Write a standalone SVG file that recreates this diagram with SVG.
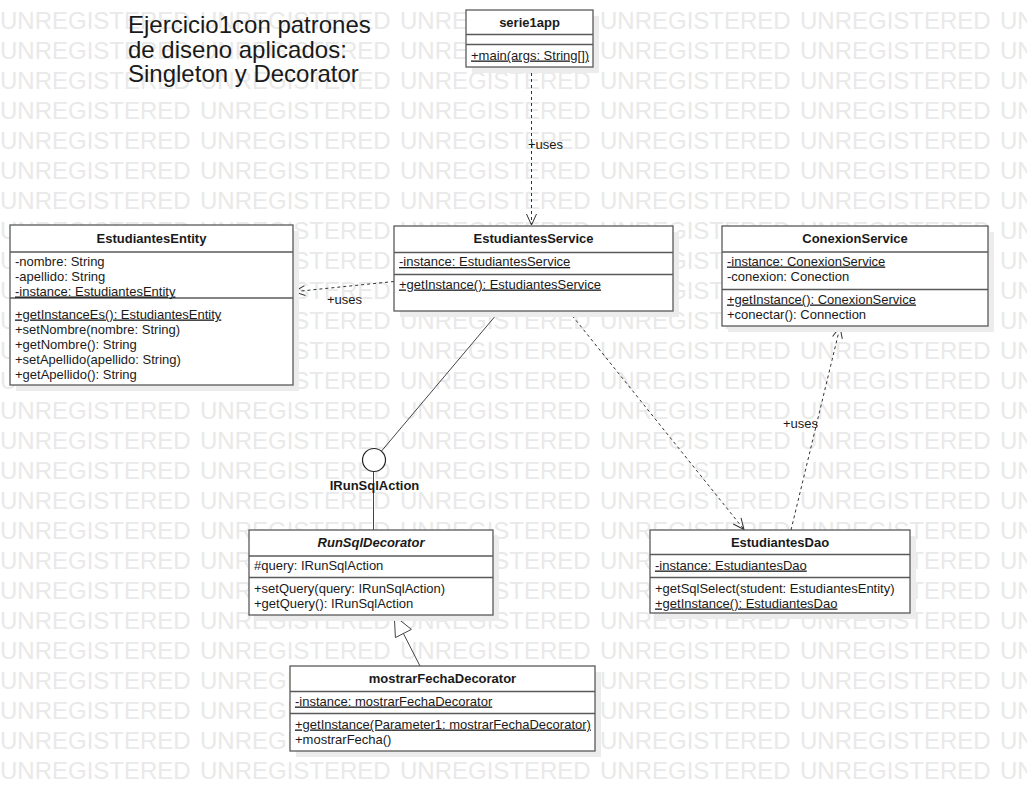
<svg xmlns="http://www.w3.org/2000/svg" xmlns:xlink="http://www.w3.org/1999/xlink" width="1027" height="791" viewBox="0 0 1027 791">
<style>
.wm{font-family:"Liberation Sans",Arial,sans-serif;font-size:24px;fill:#e9e9e9}
.box{fill:#ffffff;stroke:#5a5a5a;stroke-width:1.3}
.shadow{fill:#ececec;stroke:none}
.div{stroke:#5a5a5a;stroke-width:1.3}
.t{font-family:"Liberation Sans",Arial,sans-serif;font-size:13px;fill:#1a1a1a}
.h{font-family:"Liberation Sans",Arial,sans-serif;font-size:13px;font-weight:bold;fill:#1a1a1a;text-anchor:middle}
.u{text-decoration:underline}
.title{font-family:"Liberation Sans",Arial,sans-serif;font-size:24px;fill:#1a1a1a}
.dash{fill:none;stroke:#333;stroke-width:1;stroke-dasharray:3,3}
.solid{fill:none;stroke:#444;stroke-width:1}
.lbl{font-family:"Liberation Sans",Arial,sans-serif;font-size:13px;fill:#1a1a1a}
</style>
<defs>
<marker id="open" markerUnits="userSpaceOnUse" markerWidth="14" markerHeight="12" viewBox="-12 -6 14 12" refX="0" refY="0" orient="auto" overflow="visible">
<path d="M -11 -5 L 0 0 L -11 5" fill="none" stroke="#333" stroke-width="1"/>
</marker>
<g id="wmrow">
<text class="wm" x="0" y="0">UNREGISTERED</text>
<text class="wm" x="200" y="0">UNREGISTERED</text>
<text class="wm" x="400" y="0">UNREGISTERED</text>
<text class="wm" x="600" y="0">UNREGISTERED</text>
<text class="wm" x="800" y="0">UNREGISTERED</text>
<text class="wm" x="1000" y="0">UNREGISTERED</text>
</g>
</defs>
<rect x="0" y="0" width="1027" height="791" fill="#ffffff"/>
<g id="watermark">
<use xlink:href="#wmrow" y="29"/><use xlink:href="#wmrow" y="59"/><use xlink:href="#wmrow" y="89"/><use xlink:href="#wmrow" y="119"/><use xlink:href="#wmrow" y="149"/><use xlink:href="#wmrow" y="179"/><use xlink:href="#wmrow" y="209"/><use xlink:href="#wmrow" y="239"/><use xlink:href="#wmrow" y="269"/><use xlink:href="#wmrow" y="299"/><use xlink:href="#wmrow" y="329"/><use xlink:href="#wmrow" y="359"/><use xlink:href="#wmrow" y="389"/><use xlink:href="#wmrow" y="419"/><use xlink:href="#wmrow" y="449"/><use xlink:href="#wmrow" y="479"/><use xlink:href="#wmrow" y="509"/><use xlink:href="#wmrow" y="539"/><use xlink:href="#wmrow" y="569"/><use xlink:href="#wmrow" y="599"/><use xlink:href="#wmrow" y="629"/><use xlink:href="#wmrow" y="659"/><use xlink:href="#wmrow" y="689"/><use xlink:href="#wmrow" y="719"/><use xlink:href="#wmrow" y="749"/><use xlink:href="#wmrow" y="779"/>
</g>
<g id="title">
<text class="title" x="128" y="33">Ejercicio1con patrones</text>
<text class="title" x="128" y="57.5">de diseno aplicados:</text>
<text class="title" x="128" y="82">Singleton y Decorator</text>
</g>
<g id="connectors">
<line class="dash" x1="531.5" y1="67" x2="531.5" y2="225" marker-end="url(#open)"/>
<text class="lbl" x="528" y="148.5">+uses</text>
<line class="dash" x1="394" y1="281.5" x2="294" y2="291.7" marker-end="url(#open)"/>
<text class="lbl" x="327" y="303.5">+uses</text>
<line class="dash" x1="568.5" y1="311" x2="744" y2="529.5" marker-end="url(#open)"/>
<line class="dash" x1="791" y1="530" x2="840" y2="327" marker-end="url(#open)"/>
<text class="lbl" x="783" y="427.5">+uses</text>
<line class="solid" x1="499.5" y1="311" x2="381.4" y2="451.2"/>
<line class="solid" x1="373.5" y1="471.5" x2="373.5" y2="530"/>
<line class="solid" x1="420" y1="666" x2="403.4" y2="633.5"/>
<path d="M 394.3 615.7 L 411.4 629.4 L 395.4 637.6 Z" fill="#ffffff" stroke="#444" stroke-width="1"/>
</g>
<g id="IRunSqlAction">
<circle cx="374" cy="460" r="11.5" fill="#ffffff" stroke="#222" stroke-width="1.2"/>
<text class="h" x="374.5" y="489.5">IRunSqlAction</text>
</g>
<g id="serie1app">
<rect class="shadow" x="472" y="16" width="127" height="57"/>
<rect class="box" x="466" y="10" width="127" height="57"/>
<line class="div" x1="466" y1="34.5" x2="593" y2="34.5"/>
<line class="div" x1="466" y1="44.5" x2="593" y2="44.5"/>
<text class="h" x="529.5" y="27">serie1app</text>
<text class="t u" x="471" y="59.5">+main(args: String[])</text>
</g>
<g id="EstudiantesEntity">
<rect class="shadow" x="16" y="231" width="283" height="160"/>
<rect class="box" x="10" y="225" width="283" height="160"/>
<line class="div" x1="10" y1="252" x2="293" y2="252"/>
<line class="div" x1="10" y1="298" x2="293" y2="298"/>
<text class="h" x="151.5" y="243">EstudiantesEntity</text>
<text class="t" x="15" y="265.5">-nombre: String</text>
<text class="t" x="15" y="280.5">-apellido: String</text>
<text class="t u" x="15" y="295.5">-instance: EstudiantesEntity</text>
<text class="t u" x="15" y="318.5">+getInstanceEs(): EstudiantesEntity</text>
<text class="t" x="15" y="333.5">+setNombre(nombre: String)</text>
<text class="t" x="15" y="348.5">+getNombre(): String</text>
<text class="t" x="15" y="363.5">+setApellido(apellido: String)</text>
<text class="t" x="15" y="378.5">+getApellido(): String</text>
</g>
<g id="EstudiantesService">
<rect class="shadow" x="400" y="232" width="279" height="85"/>
<rect class="box" x="394" y="226" width="279" height="85"/>
<line class="div" x1="394" y1="252.5" x2="673" y2="252.5"/>
<line class="div" x1="394" y1="274.5" x2="673" y2="274.5"/>
<text class="h" x="533.5" y="243">EstudiantesService</text>
<text class="t u" x="399" y="266">-instance: EstudiantesService</text>
<text class="t u" x="399" y="288.5">+getInstance(): EstudiantesService</text>
</g>
<g id="ConexionService">
<rect class="shadow" x="728" y="232" width="266" height="100"/>
<rect class="box" x="722" y="226" width="266" height="100"/>
<line class="div" x1="722" y1="252" x2="988" y2="252"/>
<line class="div" x1="722" y1="289.5" x2="988" y2="289.5"/>
<text class="h" x="855" y="243">ConexionService</text>
<text class="t u" x="727" y="265.5">-instance: ConexionService</text>
<text class="t" x="727" y="280.5">-conexion: Conection</text>
<text class="t u" x="727" y="303.5">+getInstance(): ConexionService</text>
<text class="t" x="727" y="318.5">+conectar(): Connection</text>
</g>
<g id="RunSqlDecorator">
<rect class="shadow" x="255" y="536" width="244" height="85"/>
<rect class="box" x="249" y="530" width="244" height="85"/>
<line class="div" x1="249" y1="556" x2="493" y2="556"/>
<line class="div" x1="249" y1="577.5" x2="493" y2="577.5"/>
<text class="h" x="371" y="547" font-style="italic">RunSqlDecorator</text>
<text class="t" x="254" y="569.5">#query: IRunSqlAction</text>
<text class="t" x="254" y="592.5">+setQuery(query: IRunSqlAction)</text>
<text class="t" x="254" y="607.5">+getQuery(): IRunSqlAction</text>
</g>
<g id="mostrarFechaDecorator">
<rect class="shadow" x="296" y="672" width="305" height="85"/>
<rect class="box" x="290" y="666" width="305" height="85"/>
<line class="div" x1="290" y1="691.5" x2="595" y2="691.5"/>
<line class="div" x1="290" y1="713.5" x2="595" y2="713.5"/>
<text class="h" x="442.5" y="683">mostrarFechaDecorator</text>
<text class="t u" x="295" y="705.5">-instance: mostrarFechaDecorator</text>
<text class="t u" x="295" y="728.5">+getInstance(Parameter1: mostrarFechaDecorator)</text>
<text class="t" x="295" y="744">+mostrarFecha()</text>
</g>
<g id="EstudiantesDao">
<rect class="shadow" x="656" y="536" width="260" height="83"/>
<rect class="box" x="650" y="530" width="260" height="83"/>
<line class="div" x1="650" y1="554.5" x2="910" y2="554.5"/>
<line class="div" x1="650" y1="577.5" x2="910" y2="577.5"/>
<text class="h" x="780" y="547">EstudiantesDao</text>
<text class="t u" x="655" y="569.5">-instance: EstudiantesDao</text>
<text class="t" x="655" y="592.5">+getSqlSelect(student: EstudiantesEntity)</text>
<text class="t u" x="655" y="607.5">+getInstance(): EstudiantesDao</text>
</g>
</svg>
